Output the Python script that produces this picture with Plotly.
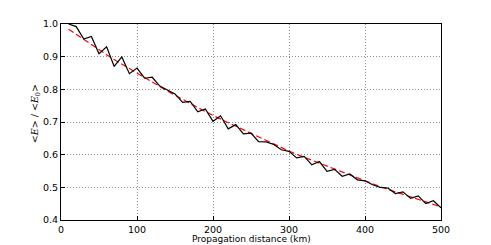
import plotly.graph_objects as go

distance_km = [10, 20, 30, 40, 50, 60, 70, 80, 90, 100,
               110, 120, 130, 140, 150, 160, 170, 180, 190, 200,
               210, 220, 230, 240, 250, 260, 270, 280, 290, 300,
               310, 320, 330, 340, 350, 360, 370, 380, 390, 400,
               410, 420, 430, 440, 450, 460, 470, 480, 490, 500]

simulated = [1.000, 0.992, 0.954, 0.962, 0.909, 0.930, 0.870, 0.899, 0.848, 0.865,
             0.834, 0.837, 0.810, 0.798, 0.786, 0.760, 0.763, 0.731, 0.740, 0.702,
             0.719, 0.679, 0.692, 0.664, 0.666, 0.640, 0.639, 0.631, 0.615, 0.610,
             0.590, 0.595, 0.569, 0.579, 0.549, 0.555, 0.534, 0.541, 0.523, 0.520,
             0.508, 0.500, 0.498, 0.481, 0.486, 0.466, 0.474, 0.450, 0.459, 0.437]

fit = [0.984, 0.968, 0.952, 0.936, 0.921, 0.906, 0.891, 0.877, 0.863, 0.849,
       0.835, 0.821, 0.808, 0.795, 0.782, 0.769, 0.757, 0.744, 0.732, 0.720,
       0.709, 0.697, 0.686, 0.675, 0.664, 0.653, 0.642, 0.632, 0.621, 0.611,
       0.601, 0.592, 0.582, 0.573, 0.563, 0.554, 0.545, 0.536, 0.527, 0.519,
       0.510, 0.502, 0.494, 0.486, 0.478, 0.470, 0.463, 0.455, 0.448, 0.440]

x_ticks = [0, 100, 200, 300, 400, 500]
y_ticks = [0.4, 0.5, 0.6, 0.7, 0.8, 0.9, 1.0]
x_title = "Propagation distance (km)"
y_title = "&lt;<i>E</i>&gt; / &lt;<i>E</i><sub>0</sub>&gt;"

fig = go.Figure()
fig.add_trace(go.Scatter(x=distance_km, y=fit, mode="lines",
                         line=dict(color="#ff0000", width=1.2, dash="6px,3px"),
                         showlegend=False))
fig.add_trace(go.Scatter(x=distance_km, y=simulated, mode="lines",
                         line=dict(color="black", width=1.2),
                         showlegend=False))

axis_common = dict(
    showline=True, linecolor="black", linewidth=1.2, mirror=True,
    showgrid=True, gridcolor="#8c8c8c", griddash="1px,2px", gridwidth=1,
    zeroline=False, ticks="inside", ticklen=4, tickcolor="black",
    tickfont=dict(family="DejaVu Sans", size=9.5, color="black"),
    automargin=False,
)

fig.update_xaxes(range=[0, 500], tickvals=x_ticks, **axis_common)
fig.update_yaxes(range=[0.4, 1.0], tickvals=y_ticks, tickformat=".1f", **axis_common)

fig.add_annotation(text=x_title, xref="paper", yref="paper", x=0.5, y=0,
                   xanchor="center", yanchor="top", yshift=-12, showarrow=False,
                   font=dict(family="DejaVu Sans", size=9, color="black"))
fig.add_annotation(text=y_title, xref="paper", yref="paper", x=0, y=0.54,
                   xanchor="center", yanchor="middle", xshift=-26, textangle=-90,
                   showarrow=False,
                   font=dict(family="DejaVu Serif", size=9.5, color="black"))

fig.update_layout(
    width=491, height=245,
    margin=dict(l=53, r=58, t=16, b=33),
    paper_bgcolor="white", plot_bgcolor="white",
    font=dict(family="DejaVu Sans", size=10, color="black"),
)

fig.write_html("out.html")
